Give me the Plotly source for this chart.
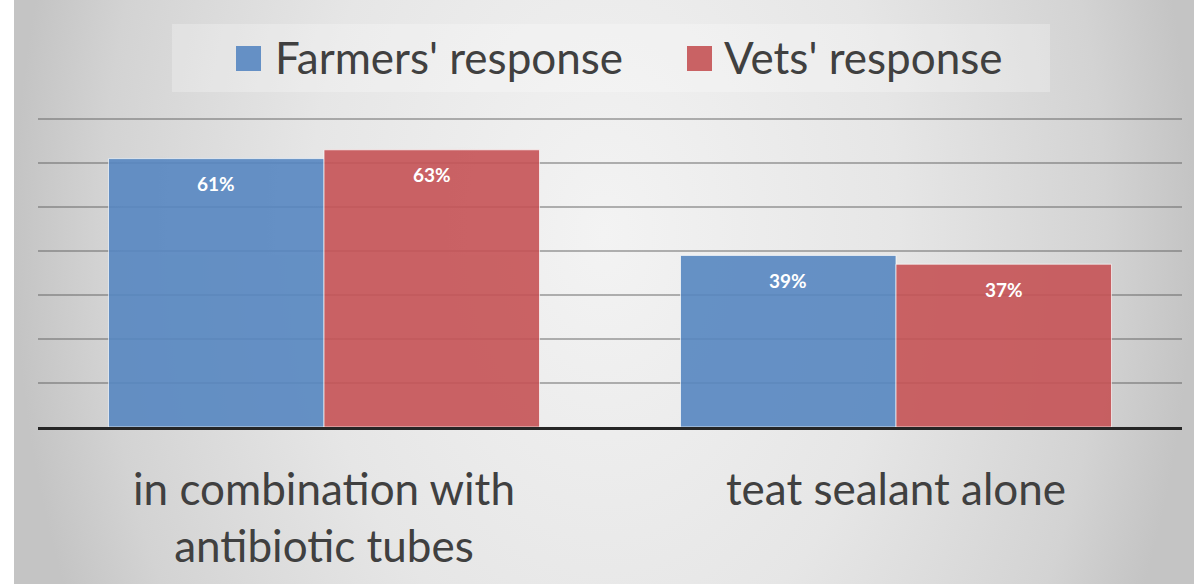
import plotly.graph_objects as go

# ---- data ----
categories = ["in combination with antibiotic tubes", "teat sealant alone"]
tick_labels = ["in combination with<br>antibiotic tubes", "teat sealant alone"]
series_names = ["Farmers' response", "Vets' response"]
farmers = [61, 39]
vets = [63, 37]

# ---- styling ----
W, H = 1194, 584
BLUE = "#5787c1"
RED = "#c65356"
BLUE_KEY = "#6590c5"
RED_KEY = "#c96264"
TEXT = "#404040"
FONT = "Lato"

Y_MAX = 71            # axis top, a little above the 70 gridline
PX_PER_UNIT = 4.4     # vertical scale of the value axis
AXIS_Y = 427          # pixel row of the baseline


def px_x(v):
    return v / W


def px_y(v):
    return 1 - v / H


fig = go.Figure()

# soft grey backdrop spanning the whole chart, brighter in the middle
bx0 = px_x(14)
fig.add_trace(go.Scatter(
    x=[bx0, 1, 1, bx0, bx0],
    y=[-0.9, -0.9, 2.1, 2.1, -0.9],
    xaxis="x", yaxis="y",
    mode="lines", fill="toself",
    line=dict(width=0, color="rgba(0,0,0,0)"),
    fillgradient=dict(
        type="radial",
        colorscale=[[0, "#f3f3f3"], [0.5, "#e6e6e6"], [0.85, "#d3d3d3"], [1, "#c4c4c4"]],
    ),
    hoverinfo="skip", showlegend=False,
))

# grouped bars
for name, vals, col in [(series_names[0], farmers, BLUE), (series_names[1], vets, RED)]:
    fig.add_trace(go.Bar(
        x=categories, y=vals, name=name,
        xaxis="x2", yaxis="y2",
        marker=dict(color=col, opacity=0.9,
                    line=dict(color="rgba(255,255,255,0.7)", width=1)),
        showlegend=False,
    ))

plot_w = (1182 - 38)
bar_w = plot_w / len(categories) * (1 - 0.2465) / 2

# value labels inside the top of each bar
for offset, vals in [(-bar_w / 2, farmers), (bar_w / 2, vets)]:
    for cat, v in zip(categories, vals):
        fig.add_annotation(
            x=cat, y=v, xref="x2", yref="y2",
            xshift=offset, yshift=-25,
            text=f"<b>{v}%</b>", showarrow=False,
            font=dict(family=FONT, size=19, color="white"),
            xanchor="center", yanchor="middle",
        )

# legend panel
shapes = [dict(
    type="rect", xref="paper", yref="paper", layer="above",
    x0=px_x(172), x1=px_x(1050), y0=px_y(92), y1=px_y(24),
    fillcolor="rgba(255,255,255,0.25)", line=dict(width=0),
)]
legend_items = [(series_names[0], BLUE_KEY, 236, 273), (series_names[1], RED_KEY, 687, 722)]
for name, col, sx, tx in legend_items:
    shapes.append(dict(
        type="rect", xref="paper", yref="paper", layer="above",
        x0=px_x(sx), x1=px_x(sx + 25), y0=px_y(71), y1=px_y(46),
        fillcolor=col, line=dict(width=0),
    ))
    fig.add_annotation(
        x=px_x(tx), y=px_y(57), xref="paper", yref="paper",
        text=name, showarrow=False, xanchor="left", yanchor="middle",
        font=dict(family=FONT, size=44, color=TEXT),
    )

fig.update_layout(
    width=W, height=H, autosize=False,
    margin=dict(l=0, r=0, t=0, b=0),
    paper_bgcolor="white", plot_bgcolor="rgba(0,0,0,0)",
    barmode="group", bargap=0.2465, bargroupgap=0,
    shapes=shapes,
    xaxis=dict(domain=[0, 1], range=[0, 1], visible=False, fixedrange=True),
    yaxis=dict(domain=[0, 1], range=[0, 1], visible=False, fixedrange=True),
    xaxis2=dict(
        domain=[px_x(38), px_x(1182)], anchor="y2",
        tickvals=categories, ticktext=tick_labels,
        showgrid=False, ticks="", showline=True,
        linecolor="#262626", linewidth=2.5,
        tickfont=dict(family=FONT, size=44, color=TEXT),
        ticklabelstandoff=22,
    ),
    yaxis2=dict(
        domain=[px_y(AXIS_Y), px_y(AXIS_Y - Y_MAX * PX_PER_UNIT)], anchor="x2",
        range=[0, Y_MAX], tickvals=[10, 20, 30, 40, 50, 60, 70],
        showticklabels=False,
        showgrid=True, gridcolor="rgba(90,90,90,0.45)", gridwidth=1.5,
        zeroline=False, ticks="",
    ),
)

fig.write_html("out.html")
